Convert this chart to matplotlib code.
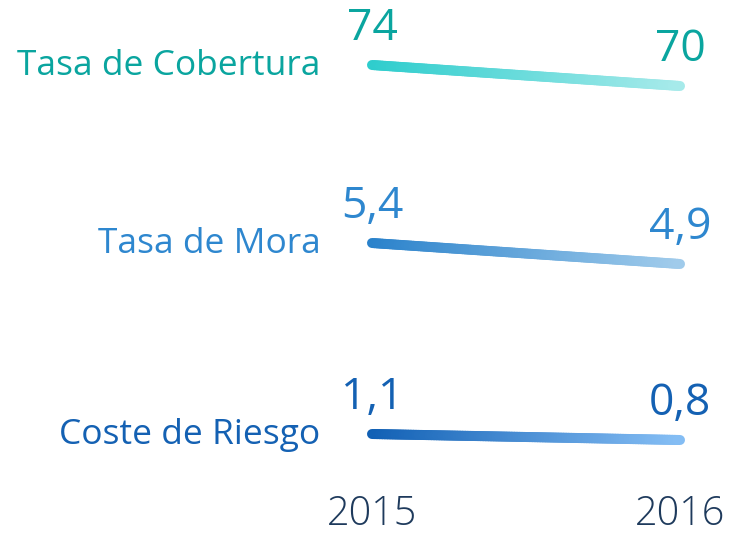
import numpy as np
import matplotlib
matplotlib.use("Agg")
import matplotlib.pyplot as plt
from matplotlib.collections import LineCollection
from matplotlib.colors import LinearSegmentedColormap

plt.rcParams['font.family'] = ['Open Sans', 'DejaVu Sans']

years = [2015, 2016]
labels = ['Tasa de Cobertura', 'Tasa de Mora', 'Coste de Riesgo']
cobertura = [74, 70]
mora = [5.4, 4.9]
riesgo = [1.1, 0.8]
value_text = [['74', '70'], ['5,4', '4,9'], ['1,1', '0,8']]

series = [cobertura, mora, riesgo]
text_colors = ['#0AA59F', '#2E87CF', '#1461B3']
grad_colors = [('#2ECDCD', '#A6EAEA'), ('#2A82CB', '#A0CBEB'), ('#1160B4', '#84BDF4')]
# pixel band (top, bottom) each line occupies, measured from top of image
bands = [(65, 86), (243, 264), (434, 440)]

W, H = 729, 535
fig = plt.figure(figsize=(W / 100, H / 100), dpi=100)
x0, x1 = 372, 680

for i, vals in enumerate(series):
    top, bot = bands[i]
    ax = fig.add_axes([x0 / W, 1 - bot / H, (x1 - x0) / W, (bot - top) / H])
    ax.set_xlim(years[0], years[1])
    ax.set_ylim(min(vals), max(vals))
    ax.axis('off')

    xs = np.linspace(years[0], years[1], 120)
    ys = np.linspace(vals[0], vals[1], 120)
    pts = np.column_stack([xs, ys]).reshape(-1, 1, 2)
    segs = np.concatenate([pts[:-1], pts[1:]], axis=1)
    cmap = LinearSegmentedColormap.from_list('g%d' % i, grad_colors[i])
    lc = LineCollection(segs, colors=cmap(np.linspace(0, 1, len(segs))),
                        linewidths=7.2, capstyle='round', clip_on=False)
    ax.add_collection(lc)

    for j in range(2):
        ax.annotate(value_text[i][j], (years[j], vals[j]), xytext=(0, 18),
                    textcoords='offset points', ha='center', va='baseline',
                    fontsize=32, color=text_colors[i], annotation_clip=False)

    ax.annotate(labels[i], (years[0], vals[0]), xytext=(-37, -7.5),
                textcoords='offset points', ha='right', va='baseline',
                fontsize=25.5, color=text_colors[i], annotation_clip=False)

# year labels
axy = fig.add_axes([x0 / W, 10 / H, (x1 - x0) / W, 0.01])
axy.set_xlim(years[0], years[1])
axy.axis('off')
for yr in years:
    axy.text(yr, 0, str(yr), ha='center', va='baseline', fontsize=28.5,
             color='#1E3A5C', fontweight='light', transform=axy.get_xaxis_transform())

fig.savefig('out.png', dpi=100)
